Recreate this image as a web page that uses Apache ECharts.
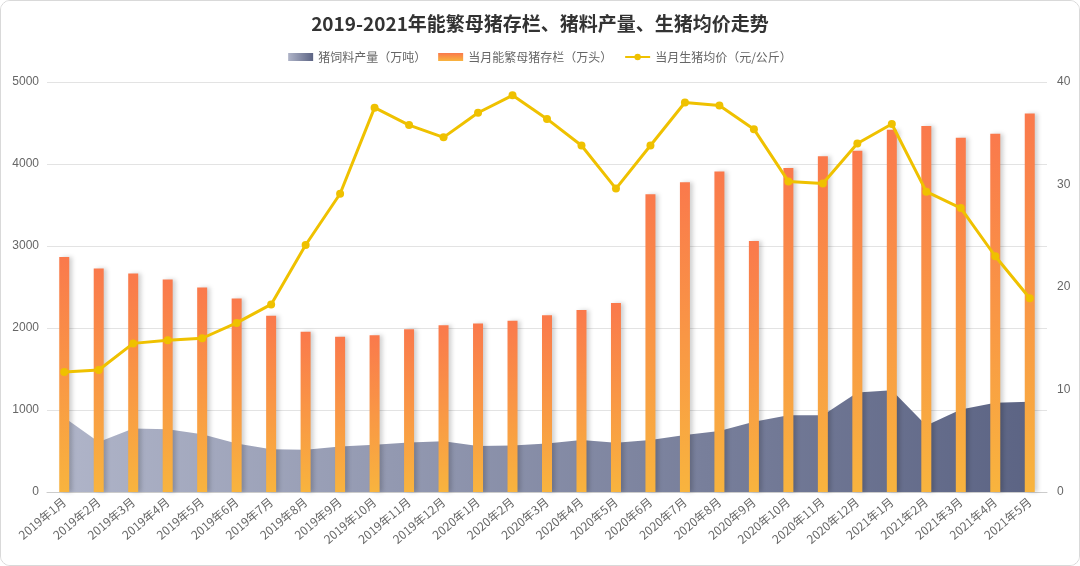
<!DOCTYPE html>
<html>
<head>
<meta charset="utf-8">
<script src="https://cdn.jsdelivr.net/npm/echarts@6/dist/echarts.min.js"></script>
<style>
html,body{margin:0;padding:0;background:#fff;}
#wrap{width:1080px;height:566px;box-sizing:border-box;border:1px solid #d9d9d9;border-radius:10px;overflow:hidden;}
#chart{width:100%;height:100%;}
</style>
</head>
<body>
<div id="wrap"><div id="chart"></div></div>
<script>
const categories = ['2019年1月','2019年2月','2019年3月','2019年4月','2019年5月','2019年6月','2019年7月','2019年8月','2019年9月','2019年10月','2019年11月','2019年12月','2020年1月','2020年2月','2020年3月','2020年4月','2020年5月','2020年6月','2020年7月','2020年8月','2020年9月','2020年10月','2020年11月','2020年12月','2021年1月','2021年2月','2021年3月','2021年4月','2021年5月'];
const feedOutput = [910,610,775,765,705,590,520,515,555,575,605,620,560,568,592,633,600,633,694,743,857,935,935,1214,1240,810,1007,1088,1100];
const sowStock = [2866,2725,2664,2591,2494,2360,2148,1953,1892,1912,1985,2034,2055,2087,2156,2221,2306,3630,3776,3910,3061,3950,4093,4162,4418,4462,4320,4369,4616];
const hogPrice = [11.7,11.9,14.5,14.8,15.0,16.5,18.3,24.1,29.1,37.5,35.8,34.6,37.0,38.7,36.4,33.8,29.6,33.8,38.0,37.7,35.4,30.3,30.1,34.0,35.9,29.3,27.7,23.0,18.9];
const leftTicks = {min:0,max:5000,interval:1000};
const rightTicks = {min:0,max:40,interval:10};

const chart = echarts.init(document.getElementById('chart'));
const areaGrad = new echarts.graphic.LinearGradient(0,0,1,0,[{offset:0,color:'#afb4c8'},{offset:1,color:'#5c6484'}]);
const barGrad = new echarts.graphic.LinearGradient(0,0,0,1,[{offset:0,color:'#fa794c'},{offset:1,color:'#f8b43e'}]);
chart.setOption({
  backgroundColor:'#fff',
  title:{text:'2019-2021年能繁母猪存栏、猪料产量、生猪均价走势',left:'center',top:8,
    textStyle:{fontSize:19,fontWeight:'bold',color:'#333',fontFamily:'Noto Sans CJK SC'}},
  legend:{top:45,left:'center',itemGap:12,itemHeight:8,
    textStyle:{color:'#666',fontSize:12,fontFamily:'Noto Sans CJK SC'},
    data:[
      {name:'猪饲料产量（万吨）',icon:'rect',itemStyle:{color:areaGrad}},
      {name:'当月能繁母猪存栏（万头）',icon:'rect',itemStyle:{color:barGrad}},
      {name:'当月生猪均价（元/公斤）'}
    ]},
  grid:{left:46,right:32,top:81,bottom:73,containLabel:false},
  xAxis:{type:'category',data:categories,boundaryGap:true,
    axisLine:{lineStyle:{color:'#ccc'}},axisTick:{lineStyle:{color:'#ccc'}},
    axisLabel:{rotate:40,color:'#666',fontSize:12,interval:0,margin:8,fontFamily:'Noto Sans CJK SC'}},
  yAxis:[
    {type:'value',min:leftTicks.min,max:leftTicks.max,interval:leftTicks.interval,
      axisLine:{show:false},axisTick:{show:false},
      axisLabel:{color:'#666',fontSize:12,formatter:function(v){return String(v);}},
      splitLine:{lineStyle:{color:'#e3e3e3'}}},
    {type:'value',min:rightTicks.min,max:rightTicks.max,interval:rightTicks.interval,
      axisLine:{show:false},axisTick:{show:false},
      axisLabel:{color:'#666',fontSize:12,margin:10,formatter:function(v){return String(v);}},
      splitLine:{show:false}}
  ],
  series:[
    {name:'猪饲料产量（万吨）',type:'line',data:feedOutput,yAxisIndex:0,z:1,
      symbol:'none',lineStyle:{width:0},itemStyle:{color:'#8a90a8'},
      areaStyle:{color:areaGrad,opacity:1}},
    {name:'当月能繁母猪存栏（万头）',type:'bar',data:sowStock,yAxisIndex:0,z:2,barWidth:10,
      itemStyle:{color:barGrad,shadowColor:'rgba(0,0,0,0.18)',shadowBlur:4,shadowOffsetX:3}},
    {name:'当月生猪均价（元/公斤）',type:'line',data:hogPrice,yAxisIndex:1,z:3,
      symbol:'circle',symbolSize:8,showAllSymbol:true,
      lineStyle:{width:3,color:'#efc100'},itemStyle:{color:'#efc100'}}
  ]
});
</script>
</body>
</html>
